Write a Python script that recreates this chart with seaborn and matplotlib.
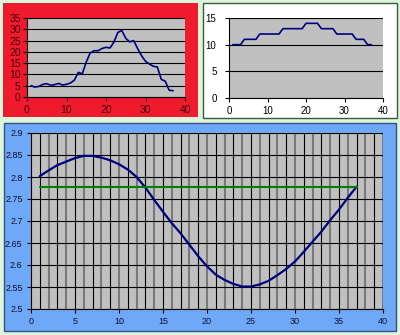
import matplotlib
matplotlib.use("Agg")
import matplotlib.pyplot as plt
import seaborn as sns
import pandas as pd
from matplotlib.patches import Rectangle
from matplotlib.ticker import MultipleLocator, FixedLocator, FixedFormatter

# ---------------- data ----------------
x_idx = list(range(1, 38))

tl_values = [5.0, 4.4, 4.7, 5.6, 5.9, 5.2, 5.5, 6.0, 5.3, 5.6, 6.2, 7.5,
             10.9, 10.3, 15.5, 19.5, 20.5, 20.5, 21.5, 22.0, 21.7, 24.3,
             28.6, 29.5, 26.0, 24.4, 25.0, 21.5, 18.3, 15.8, 14.6, 13.6,
             13.3, 7.8, 7.0, 3.0, 2.8]

tr_values = [10, 10, 10, 11, 11, 11, 11, 12, 12, 12, 12, 12, 12,
             13, 13, 13, 13, 13, 13, 14, 14, 14, 14, 13, 13, 13, 13,
             12, 12, 12, 12, 12, 11, 11, 11, 10, 10]

bottom_values = [2.802, 2.815, 2.827, 2.835, 2.843, 2.848, 2.848, 2.844,
                 2.838, 2.829, 2.817, 2.800, 2.776, 2.748, 2.721, 2.695,
                 2.672, 2.646, 2.620, 2.597, 2.578, 2.566, 2.557, 2.551,
                 2.551, 2.556, 2.564, 2.577, 2.591, 2.608, 2.630, 2.653,
                 2.676, 2.702, 2.726, 2.753, 2.778]

target_values = [2.7775, 2.7775, 2.7775, 2.7775, 2.7775, 2.7775, 2.7775,
                 2.7775, 2.7775, 2.7775, 2.7775, 2.7775, 2.7775, 2.7775,
                 2.7775, 2.7775, 2.7775, 2.7775, 2.7775, 2.7775, 2.7775,
                 2.7775, 2.7775, 2.7775, 2.7775, 2.7775, 2.7775, 2.7775,
                 2.7775, 2.7775, 2.7775, 2.7775, 2.7775, 2.7775, 2.7775,
                 2.7775, 2.7775]

tl_yticks = [0, 5, 10, 15, 20, 25, 30, 35]
tr_yticks = [0, 5, 10, 15]
top_xticks = [0, 10, 20, 30, 40]
bottom_xticks = [0, 5, 10, 15, 20, 25, 30, 35, 40]
bottom_yticks = [2.5, 2.55, 2.6, 2.65, 2.7, 2.75, 2.8, 2.85, 2.9]
bottom_ylabels = ["2.5", "2.55", "2.6", "2.65", "2.7", "2.75", "2.8", "2.85", "2.9"]

# ---------------- style ----------------
sns.set_theme(style="white")
plt.rcParams['font.family'] = ['Liberation Sans', 'DejaVu Sans']

W, H = 400, 335
fig = plt.figure(figsize=(W / 100, H / 100), dpi=100)
fig.patch.set_facecolor("#dcf5dc")


def px_rect(x0, y0, x1, y1, fc, ec=None, lw=0):
    r = Rectangle((x0 / W, 1 - y1 / H), (x1 - x0) / W, (y1 - y0) / H,
                  transform=fig.transFigure, facecolor=fc,
                  edgecolor=ec if ec else fc, linewidth=lw, zorder=-10)
    fig.patches.append(r)


px_rect(3, 3, 198, 117, "#ef1a2c")
px_rect(203, 3, 397, 118, "white", "#3c5a3c", 1.0)
px_rect(4, 123, 396, 331, "#6ea8f7", "#34508a", 1.0)


def px_axes(x0, y0, x1, y1):
    return fig.add_axes([x0 / W, 1 - y1 / H, (x1 - x0) / W, (y1 - y0) / H])


def style_axes(ax, labelcolor, size, ypad, xpad):
    ax.set_facecolor("#c0c0c0")
    for s in ["top", "right"]:
        ax.spines[s].set_visible(False)
    for s in ["left", "bottom"]:
        ax.spines[s].set_visible(True)
        ax.spines[s].set_color("black")
        ax.spines[s].set_linewidth(0.8)
    ax.tick_params(axis="both", which="major", direction="out", length=3,
                   width=0.8, color="black", labelsize=size,
                   labelcolor=labelcolor)
    ax.tick_params(axis="y", pad=ypad, left=True)
    ax.tick_params(axis="x", pad=xpad, bottom=True)
    ax.set_xlabel("")
    ax.set_ylabel("")


# ---------------- top left ----------------
ax1 = px_axes(27, 18, 185, 97)
sns.lineplot(x=x_idx, y=tl_values, ax=ax1, color="#000080", linewidth=1.2)
ax1.set_xlim(0, 40)
ax1.set_ylim(0, 35)
ax1.set_yticks(tl_yticks)
ax1.set_xticks(top_xticks)
style_axes(ax1, "#4a0010", 7.5, 1.5, 3)
ax1.grid(axis="y", color="black", linewidth=0.8)
ax1.grid(axis="x", visible=False)

# ---------------- top right ----------------
ax2 = px_axes(229, 18, 383, 98)
sns.lineplot(x=x_idx, y=tr_values, ax=ax2, color="#000080", linewidth=1.2)
ax2.set_xlim(0, 40)
ax2.set_ylim(0, 15)
ax2.set_yticks(tr_yticks)
ax2.set_xticks(top_xticks)
style_axes(ax2, "black", 7, 6, 3)
ax2.grid(axis="y", color="black", linewidth=0.8)
ax2.grid(axis="x", visible=False)

# ---------------- bottom ----------------
ax3 = px_axes(31, 133, 383, 309)
sns.lineplot(x=x_idx, y=bottom_values, ax=ax3, color="#000080", linewidth=1.6)
sns.lineplot(x=x_idx, y=target_values, ax=ax3, color="#008000", linewidth=1.5)
ax3.set_xlim(0, 40)
ax3.set_ylim(2.5, 2.9)
ax3.xaxis.set_major_locator(FixedLocator(bottom_xticks))
ax3.xaxis.set_minor_locator(MultipleLocator(1))
ax3.yaxis.set_major_locator(FixedLocator(bottom_yticks))
ax3.yaxis.set_major_formatter(FixedFormatter(bottom_ylabels))
style_axes(ax3, "#101030", 6.5, 3, 3)
ax3.tick_params(axis="x", which="minor", length=0)
ax3.grid(axis="y", color="black", linewidth=0.8)
ax3.grid(axis="x", which="both", color="black", linewidth=0.8)
# vertical grid lines alternate between crisp black and soft wide gray
fig.canvas.draw()
for t in ax3.xaxis.get_minor_ticks():
    loc = t.get_loc()
    if loc is not None and int(round(loc)) % 2 == 0:
        t.gridline.set_color("#7a7a7a")
        t.gridline.set_linewidth(1.5)
for t in ax3.xaxis.get_major_ticks():
    loc = t.get_loc()
    if loc is not None and int(round(loc)) % 2 == 0:
        t.gridline.set_color("#7a7a7a")
        t.gridline.set_linewidth(1.5)
for ln in ax3.lines:
    ln.set_zorder(3)

fig.savefig("out.png", dpi=100, facecolor=fig.get_facecolor())
